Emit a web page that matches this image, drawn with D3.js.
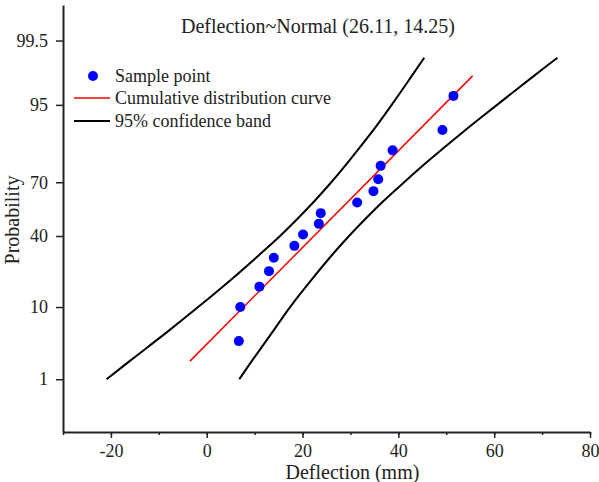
<!DOCTYPE html>
<html>
<head>
<meta charset="utf-8">
<script src="https://cdn.jsdelivr.net/npm/d3@7"></script>
<style>
  body { margin: 0; background: #fff; }
  text { font-family: "Liberation Serif", "Times New Roman", serif; fill: #222; }
</style>
</head>
<body>
<div id="chart"></div>
<script>
// sample points (deflection in mm, plotting position in %)
var sampleX = [6.7, 7.0, 11.0, 13.0, 14.0, 18.3, 20.1, 23.4, 23.8, 31.4, 34.8, 35.8, 36.3, 38.8, 49.2, 51.5];
var sampleP = [3.8, 10.0, 16.2, 22.3, 28.5, 34.6, 40.8, 46.9, 53.1, 59.2, 65.4, 71.5, 77.7, 83.8, 90.0, 96.2];

// fitted normal line end points
var fitX = [-3.5, 55.5];
var fitP = [1.95, 98.05];

// 95% confidence band
var bandP     = [1, 2, 5, 10, 20, 30, 40, 50, 60, 70, 80, 90, 95, 98, 99];
var bandLeft  = [-20.9, -15.9, -8.3, -1.8, 5.8, 11.0, 15.3, 19.0, 22.5, 26.0, 29.8, 34.8, 38.6, 42.7, 45.4];
var bandRight = [6.8, 9.5, 13.7, 17.4, 22.4, 26.2, 29.7, 33.2, 36.9, 41.2, 46.4, 54.0, 60.6, 68.1, 73.2];

var xTicks = [-20, 0, 20, 40, 60, 80];
var yTicks = [1, 10, 40, 70, 95, 99.5];
var legendLabels = ["Sample point", "Cumulative distribution curve", "95% confidence band"];
var title = "Deflection~Normal (26.11, 14.25)";

// inverse of the standard normal cdf (Acklam)
function probit(p) {
  var a = [-39.69683028665376, 220.9460984245205, -275.9285104469687, 138.3577518672690, -30.66479806614716, 2.506628277459239];
  var b = [-54.47609879822406, 161.5858368580409, -155.6989798598866, 66.80131188771972, -13.28068155288572];
  var c = [-0.007784894002430293, -0.3223964580411365, -2.400758277161838, -2.549732539343734, 4.374664141464968, 2.938163982698783];
  var d = [0.007784695709041462, 0.3224671290700398, 2.445134137142996, 3.754408661907416];
  var pl = 0.02425, q, r;
  if (p < pl) {
    q = Math.sqrt(-2 * Math.log(p));
    return (((((c[0]*q+c[1])*q+c[2])*q+c[3])*q+c[4])*q+c[5]) / ((((d[0]*q+d[1])*q+d[2])*q+d[3])*q+1);
  } else if (p <= 1 - pl) {
    q = p - 0.5; r = q * q;
    return (((((a[0]*r+a[1])*r+a[2])*r+a[3])*r+a[4])*r+a[5])*q / (((((b[0]*r+b[1])*r+b[2])*r+b[3])*r+b[4])*r+1);
  }
  q = Math.sqrt(-2 * Math.log(1 - p));
  return -(((((c[0]*q+c[1])*q+c[2])*q+c[3])*q+c[4])*q+c[5]) / ((((d[0]*q+d[1])*q+d[2])*q+d[3])*q+1);
}

var width = 599,
    height = 482,
    margin = {top: 5, right: 9, bottom: 50, left: 63};

var svg = d3.select("#chart").append("svg")
  .attr("width", width)
  .attr("height", height);

var x = d3.scaleLinear()
  .domain([-30, 80])
  .range([margin.left, width - margin.right]);

// probability axis: linear in z, so map percent -> z first
var yz = d3.scaleLinear()
  .domain([probit(0.001), probit(0.999)])
  .range([height - margin.bottom, margin.top]);
var y = function(pct) { return yz(probit(pct / 100)); };

// x axis with minor ticks in between
var xAxis = svg.append("g")
  .attr("transform", "translate(0," + (height - margin.bottom) + ")");
xAxis.append("g")
  .call(d3.axisBottom(x).tickValues(d3.range(-30, 81, 10)).tickSize(3).tickFormat(""))
  .call(function(g) { g.select(".domain").remove(); });
xAxis.append("g")
  .call(d3.axisBottom(x).tickValues(xTicks).tickSize(6).tickSizeOuter(0).tickPadding(6)
    .tickFormat(function(d) { return String(d); }))
  .call(function(g) {
    g.select(".domain").attr("stroke", "#222").attr("stroke-width", 2);
    g.selectAll("text").attr("font-size", 18).style("font-family", "Liberation Serif");
  });
xAxis.selectAll(".tick line").attr("stroke", "#222").attr("stroke-width", 1.5);

// y axis
var yAxis = svg.append("g")
  .attr("transform", "translate(" + margin.left + ",0)");
yAxis.call(d3.axisLeft(yz)
    .tickValues(yTicks.map(function(v) { return probit(v / 100); }))
    .tickFormat(function(d, i) { return yTicks[i]; })
    .tickSize(7).tickSizeOuter(0).tickPadding(8))
  .call(function(g) {
    g.select(".domain").attr("stroke", "#222").attr("stroke-width", 2);
    g.selectAll(".tick line").attr("stroke", "#222").attr("stroke-width", 1.5);
    g.selectAll("text").attr("font-size", 18).style("font-family", "Liberation Serif");
  });

// axis titles
svg.append("text")
  .attr("x", (x(20) + x(40)) / 2 + 2)
  .attr("y", 479)
  .attr("text-anchor", "middle")
  .attr("font-size", 20)
  .text("Deflection (mm)");

svg.append("text")
  .attr("transform", "translate(19,220) rotate(-90)")
  .attr("text-anchor", "middle")
  .attr("font-size", 20)
  .text("Probability");

svg.append("text")
  .attr("x", 318)
  .attr("y", 33)
  .attr("text-anchor", "middle")
  .attr("font-size", 20)
  .text(title);

// confidence band
var band = d3.line()
  .x(function(d) { return x(d[0]); })
  .y(function(d) { return y(d[1]); })
  .curve(d3.curveCatmullRom);

[bandLeft, bandRight].forEach(function(arr) {
  svg.append("path")
    .datum(arr.map(function(v, i) { return [v, bandP[i]]; }))
    .attr("d", band)
    .attr("fill", "none")
    .attr("stroke", "#000")
    .attr("stroke-width", 2);
});

// fitted line
svg.append("path")
  .datum(fitX.map(function(v, i) { return [v, fitP[i]]; }))
  .attr("d", d3.line().x(function(d) { return x(d[0]); }).y(function(d) { return y(d[1]); }))
  .attr("fill", "none")
  .attr("stroke", "#ff0000")
  .attr("stroke-width", 1.5);

// samples
svg.selectAll(".pt")
  .data(sampleX)
  .enter().append("circle")
  .attr("class", "pt")
  .attr("cx", function(d) { return x(d); })
  .attr("cy", function(d, i) { return y(sampleP[i]); })
  .attr("r", 5)
  .attr("fill", "#0000ff");

// legend
var lg = svg.append("g");
var rows = [76, 98, 121];
lg.append("circle").attr("cx", 93).attr("cy", rows[0]).attr("r", 5).attr("fill", "#0000ff");
lg.append("line").attr("x1", 74).attr("x2", 110).attr("y1", rows[1]).attr("y2", rows[1])
  .attr("stroke", "#ff0000").attr("stroke-width", 1.5);
lg.append("line").attr("x1", 74).attr("x2", 110).attr("y1", rows[2]).attr("y2", rows[2])
  .attr("stroke", "#000").attr("stroke-width", 2);
lg.selectAll(".lt")
  .data(legendLabels)
  .enter().append("text")
  .attr("class", "lt")
  .attr("x", 115)
  .attr("y", function(d, i) { return rows[i] + 6; })
  .attr("font-size", 18)
  .text(function(d) { return d; });
</script>
</body>
</html>
